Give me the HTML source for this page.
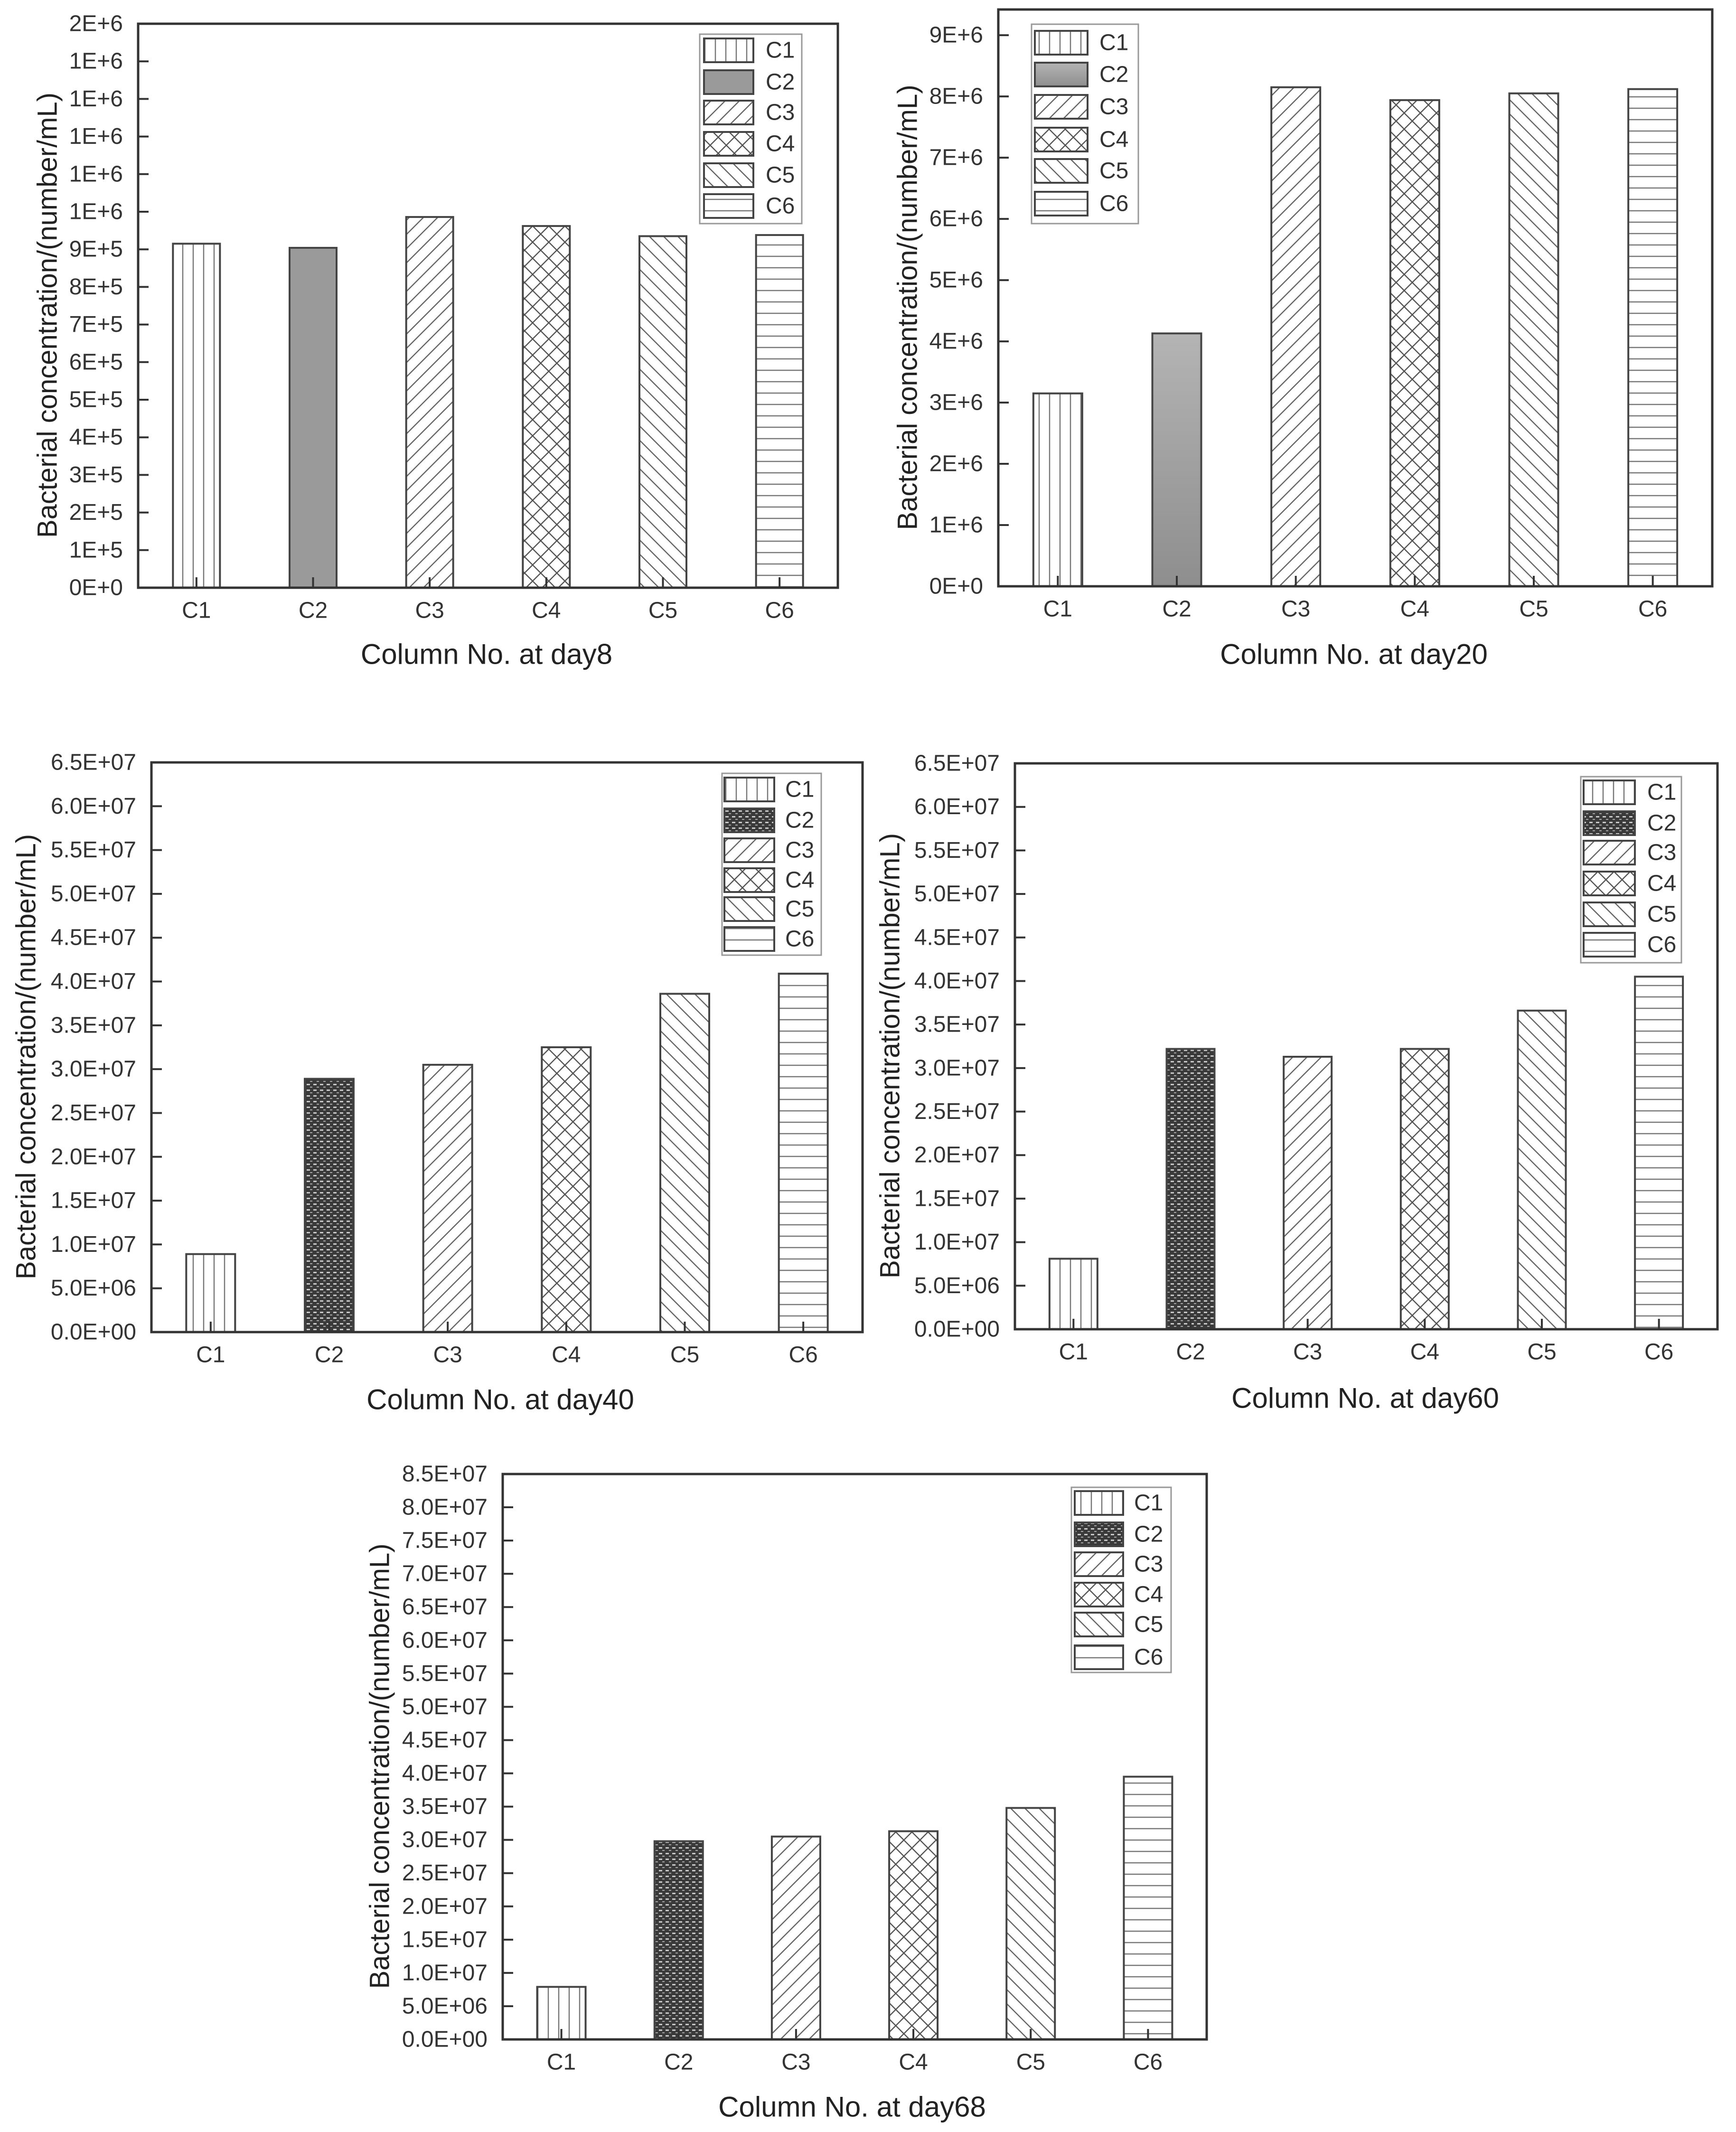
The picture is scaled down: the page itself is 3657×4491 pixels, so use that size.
<!DOCTYPE html>
<html><head><meta charset="utf-8"><title>Bacterial concentration charts</title>
<style>
html,body{margin:0;padding:0;background:#fff;}
svg{display:block;font-family:"Liberation Sans",Arial,sans-serif;}
</style></head>
<body>
<svg id="fig" width="3657" height="4491" viewBox="0 0 3657 4491" xmlns="http://www.w3.org/2000/svg">
<defs>
  <pattern id="pC1" patternUnits="userSpaceOnUse" width="22" height="22"><line x1="11" y1="0" x2="11" y2="22" stroke="#777" stroke-width="2.5"/></pattern>
  <pattern id="pC3" patternUnits="userSpaceOnUse" width="30" height="30"><path d="M-8,38 L38,-8 M-23,23 L23,-23 M7,53 L53,7" stroke="#666" stroke-width="2.5"/></pattern>
  <pattern id="pC4" patternUnits="userSpaceOnUse" width="34" height="34"><path d="M0,34 L34,0 M0,0 L34,34" stroke="#555" stroke-width="2.5"/></pattern>
  <pattern id="pC5" patternUnits="userSpaceOnUse" width="30" height="30"><path d="M-8,-8 L38,38 M-23,7 L23,53 M7,-23 L53,23" stroke="#666" stroke-width="2.5"/></pattern>
  <pattern id="pC6" patternUnits="userSpaceOnUse" width="24" height="24"><line x1="0" y1="12" x2="24" y2="12" stroke="#777" stroke-width="2.5"/></pattern>
  <pattern id="pDot" patternUnits="userSpaceOnUse" width="14" height="12"><rect width="14" height="12" fill="#3a3a3a"/><rect x="2" y="3" width="7" height="3" fill="#c8c8c8"/><rect x="9" y="9" width="5" height="2" fill="#aaa"/></pattern>
  <linearGradient id="gGray" x1="0" y1="0" x2="0" y2="1"><stop offset="0" stop-color="#b4b4b4"/><stop offset="1" stop-color="#8e8e8e"/></linearGradient>
</defs>
<g id="charts"></g>
</svg>
<script>
// ---------- data ----------
const categories = ["C1","C2","C3","C4","C5","C6"];
const day8Values  = [9.15e5, 9.04e5, 9.86e5, 9.62e5, 9.35e5, 9.38e5];
const day20Values = [3.15e6, 4.13e6, 8.15e6, 7.94e6, 8.05e6, 8.12e6];
const day40Values = [8.9e6, 2.89e7, 3.05e7, 3.25e7, 3.86e7, 4.09e7];
const day60Values = [8.1e6, 3.22e7, 3.13e7, 3.22e7, 3.66e7, 4.05e7];
const day68Values = [7.9e6, 2.98e7, 3.05e7, 3.13e7, 3.48e7, 3.95e7];
const day8Ticks  = ["0E+0","1E+5","2E+5","3E+5","4E+5","5E+5","6E+5","7E+5","8E+5","9E+5","1E+6","1E+6","1E+6","1E+6","1E+6","2E+6"];
const day20Ticks = ["0E+0","1E+6","2E+6","3E+6","4E+6","5E+6","6E+6","7E+6","8E+6","9E+6"];
const day40Ticks = ["0.0E+00","5.0E+06","1.0E+07","1.5E+07","2.0E+07","2.5E+07","3.0E+07","3.5E+07","4.0E+07","4.5E+07","5.0E+07","5.5E+07","6.0E+07","6.5E+07"];
const day60Ticks = day40Ticks;
const day68Ticks = ["0.0E+00","5.0E+06","1.0E+07","1.5E+07","2.0E+07","2.5E+07","3.0E+07","3.5E+07","4.0E+07","4.5E+07","5.0E+07","5.5E+07","6.0E+07","6.5E+07","7.0E+07","7.5E+07","8.0E+07","8.5E+07"];
const day8Step = 1e5, day20Step = 1e6, day40Step = 5e6, day60Step = 5e6, day68Step = 5e6;

// ---------- layout ----------
const NS = "http://www.w3.org/2000/svg";
const root = document.getElementById("charts");
function mk(tag, attrs, parent){
  const e = document.createElementNS(NS, tag);
  for (const k in attrs) e.setAttribute(k, attrs[k]);
  (parent||root).appendChild(e);
  return e;
}
const charts = [
  {id:"day8", values:day8Values, ticks:day8Ticks, step:day8Step, yMax:1.5e6,
   L:291, R:1765, T:50, B:1238, bw:99, c2:"#9a9a9a",
   leg:{x:1474,y:72,w:215,h:399,sx:1483,sw:104,lx:1613,rows:[106,173,237,303,369,434]},
   titleX:1025, titleY:1378, yTitleX:100, title:"Column No. at day8"},
  {id:"day20", values:day20Values, ticks:day20Ticks, step:day20Step, yMax:9.42e6,
   L:2103, R:3607, T:20, B:1235, bw:103, c2:"url(#gGray)",
   leg:{x:2173,y:51,w:225,h:420,sx:2180,sw:111,lx:2316,rows:[90,157,225,294,360,429]},
   titleX:2852, titleY:1378, yTitleX:1912, title:"Column No. at day20"},
  {id:"day40", values:day40Values, ticks:day40Ticks, step:day40Step, yMax:6.5e7,
   L:319, R:1817, T:1606, B:2806, bw:103, c2:"url(#pDot)",
   leg:{x:1521,y:1629,w:209,h:383,sx:1526,sw:105,lx:1654,rows:[1663,1728,1791,1854,1915,1978]},
   titleX:1054, titleY:2948, yTitleX:55, title:"Column No. at day40"},
  {id:"day60", values:day60Values, ticks:day60Ticks, step:day60Step, yMax:6.5e7,
   L:2138, R:3618, T:1608, B:2800, bw:101, c2:"url(#pDot)",
   leg:{x:3330,y:1636,w:212,h:392,sx:3336,sw:108,lx:3470,rows:[1669,1734,1796,1861,1926,1990]},
   titleX:2876, titleY:2945, yTitleX:1875, title:"Column No. at day60"},
  {id:"day68", values:day68Values, ticks:day68Ticks, step:day68Step, yMax:8.5e7,
   L:1059, R:2542, T:3105, B:4296, bw:102, c2:"url(#pDot)",
   leg:{x:2257,y:3133,w:210,h:390,sx:2264,sw:102,lx:2389,rows:[3166,3232,3295,3359,3422,3491]},
   titleX:1795, titleY:4438, yTitleX:800, title:"Column No. at day68"}
];
const fills = ["url(#pC1)", null, "url(#pC3)", "url(#pC4)", "url(#pC5)", "url(#pC6)"];

charts.forEach(function(c){
  const g = mk("g", {});
  
  
  const innerW = c.R - c.L;
  const slot = innerW / 6;
  const xScale = function(i){ return c.L + slot*(i+0.5); };
  const yScale = function(v){ return c.B - v / c.yMax * (c.B - c.T); };
  const fillFor = function(i){ return i === 1 ? c.c2 : fills[i]; };

  c.values.forEach(function(v, i){
    const x = xScale(i) - c.bw/2, y = yScale(v);
    const bg = mk("rect", {x:x, y:y, width:c.bw, height:c.B - y, fill:"#fff"}, g);
    
    
    const r = mk("rect", {x:x, y:y, width:c.bw, height:c.B - y, fill:fillFor(i), stroke:"#444", "stroke-width":4}, g);
    
    
  });

  const frame = mk("rect", {x:c.L, y:c.T, width:innerW, height:c.B - c.T, fill:"none", stroke:"#333", "stroke-width":5}, g);
  
  

  c.ticks.forEach(function(t, k){
    const y = yScale(k * c.step);
    const tl = mk("line", {x1:c.L, y1:y, x2:c.L+22, y2:y, stroke:"#333", "stroke-width":4}, g);
    
    
    const tx = mk("text", {x:c.L-32, y:y, "text-anchor":"end", "dominant-baseline":"central", "font-size":48, fill:"#333"}, g);
    tx.textContent = t;
    
    
  });

  categories.forEach(function(cat, i){
    const x = xScale(i);
    const tl = mk("line", {x1:x, y1:c.B, x2:x, y2:c.B-22, stroke:"#333", "stroke-width":4}, g);
    
    
    const tx = mk("text", {x:x, y:c.B+48, "text-anchor":"middle", "dominant-baseline":"central", "font-size":48, fill:"#333"}, g);
    tx.textContent = cat;
    
    
  });

  const xt = mk("text", {x:c.titleX, y:c.titleY, "text-anchor":"middle", "dominant-baseline":"central", "font-size":60, fill:"#222"}, g);
  xt.textContent = c.title;
  
  
  const yc = (c.T + c.B)/2 + 20;
  const yt = mk("text", {x:c.yTitleX, y:yc, "text-anchor":"middle", "dominant-baseline":"central", "font-size":58, fill:"#222", transform:"rotate(-90 "+c.yTitleX+" "+yc+")"}, g);
  yt.textContent = "Bacterial concentration/(number/mL)";
  
  

  const lg = mk("g", {}, g);
  
  
  const lb = mk("rect", {x:c.leg.x, y:c.leg.y, width:c.leg.w, height:c.leg.h, fill:"#fff", stroke:"#999", "stroke-width":3}, lg);
  
  
  categories.forEach(function(cat, i){
    const cy = c.leg.rows[i];
    const sw = mk("rect", {x:c.leg.sx, y:cy-25, width:c.leg.sw, height:50, fill:fillFor(i), stroke:"#444", "stroke-width":4}, lg);
    
    
    const lt = mk("text", {x:c.leg.lx, y:cy, "dominant-baseline":"central", "font-size":48, fill:"#333"}, lg);
    lt.textContent = cat;
    
    
  });
});
</script>
</body></html>
